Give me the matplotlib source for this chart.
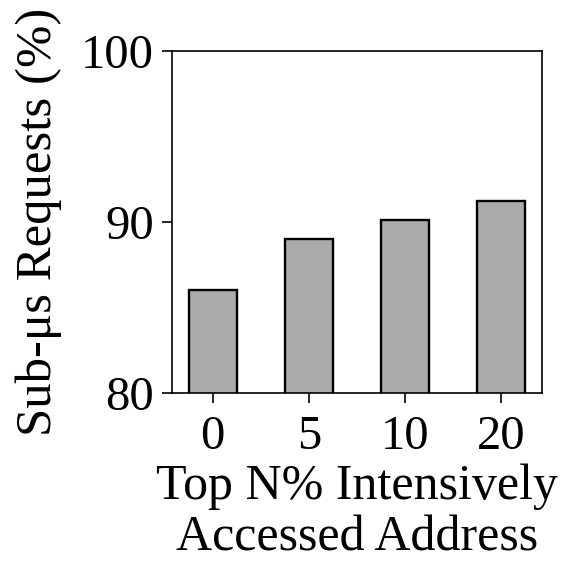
import matplotlib
matplotlib.use("Agg")
import matplotlib.pyplot as plt
import numpy as np

# Share of requests served in under a microsecond, per hot-address threshold
categories = ["0", "5", "10", "20"]
sub_us_pct = [86.0, 89.0, 90.1, 91.2]
y_ticks = [80, 90, 100]

plt.rcParams["font.family"] = ["Liberation Serif", "DejaVu Serif"]

fig = plt.figure(figsize=(5.64, 5.65), dpi=100)
ax = fig.add_axes([0.3044, 0.3050, 0.9615 - 0.3044, 0.9103 - 0.3050])

x = np.arange(len(categories))
ax.bar(x, sub_us_pct, width=0.5, color="#aaaaaa", edgecolor="black", linewidth=1.7)

ax.set_ylim(80, 100)
ax.set_yticks(y_ticks)
ax.set_xticks(x)
ax.set_xticklabels(categories)

for s in ax.spines.values():
    s.set_linewidth(1.2)
ax.tick_params(axis="both", direction="out", length=7, width=1.2, labelsize=35)
ax.tick_params(axis="x", pad=9)
ax.tick_params(axis="y", pad=6)

ax.set_ylabel("Sub-μs Requests (%)", fontsize=36.5)
ax.yaxis.set_label_coords(-0.296, 0.5)
ax.set_xlabel("Top N% Intensively\nAccessed Address", fontsize=36, linespacing=1.16, labelpad=3)

fig.savefig("out.png", dpi=100)
